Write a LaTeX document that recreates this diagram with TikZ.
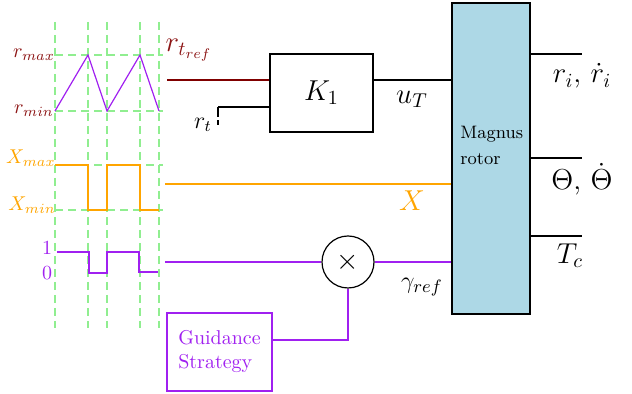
\documentclass[tikz,border=0pt]{standalone}
\usepackage{amsmath,amssymb}
\usepackage{xcolor}
\usepackage{tikz}
\usetikzlibrary{arrows.meta,positioning,calc}
\definecolor{rdark}{RGB}{140,20,20}
\definecolor{rline}{RGB}{128,0,0}
\definecolor{xorange}{RGB}{255,165,0}
\definecolor{gpurple}{RGB}{160,32,240}
\definecolor{lgreen}{RGB}{144,238,144}
\definecolor{lblue}{RGB}{173,216,230}

\begin{document}
\begin{tikzpicture}[
  x=0.5pt, y=-0.5pt,
  grid/.style={dash pattern=on 4pt off 2.5pt, line width=1pt, draw=lgreen},
  blk/.style={rectangle, draw, line width=0.8pt, inner sep=0pt},
  sig/.style={line width=0.8pt},
  lbl/.style={inner sep=1pt, font=\Large},
  wlbl/.style={inner sep=1pt}
]
  \useasboundingbox (0,0) rectangle (632,394);

  \foreach \gx in {55,88,107,140,159}
    \draw[grid] (\gx,22) -- (\gx,328);
  \foreach \gy in {55,111,165,210}
    \draw[grid] (55,\gy) -- (163,\gy);

  \draw[gpurple, line width=0.6pt] (55,111) -- (88,55) -- (107,111) -- (140,55) -- (159,111);
  \draw[xorange, line width=0.7pt] (55,165) -- (88,165) -- (88,210) -- (107,210) -- (107,165)
    -- (140,165) -- (140,210) -- (159,210);
  \draw[gpurple, line width=0.7pt] (57,252) -- (89,252) -- (89,273) -- (107,273) -- (107,252)
    -- (139,252) -- (139,272) -- (158,272);

  \node[wlbl, text=rdark] (rmax) at (34,55) {$r_{max}$};
  \node[wlbl, text=rdark] (rmin) at (34,111) {$r_{min}$};
  \node[wlbl, text=xorange] (xmax) at (31,158) {$X_{max}$};
  \node[wlbl, text=xorange] (xmin) at (32,205) {$X_{min}$};
  \node[wlbl, text=gpurple] (one) at (47,248) {$1$};
  \node[wlbl, text=gpurple] (zero) at (47,273) {$0$};

  \node[blk, minimum width=51.5pt, minimum height=39pt, font=\Large] (k1) at (321.5,93) {$K_1$};
  \node[blk, line width=1pt, fill=lblue, minimum width=39pt, minimum height=155.5pt] (mr) at (491,158.5) {};
  \node[inner sep=0pt, anchor=west, align=left, font=\small] (mtext) at (460,145) {Magnus\\[2pt]rotor};
  \node[circle, draw, line width=0.6pt, minimum size=26pt, inner sep=0pt, font=\Large] (mult) at (348,262) {$\times$};
  \node[blk, draw=gpurple, line width=1pt, minimum width=52.5pt, minimum height=39pt,
        text=gpurple, align=left] (gs) at (219.5,352) {Guidance\\Strategy};

  \coordinate (rin) at (167,79);
  \coordinate (rt) at (218,125);
  \coordinate (rtc) at (218,107);
  \coordinate (xin) at (165,184);
  \coordinate (gin) at (165,262);
  \coordinate (o1) at (582,54);
  \coordinate (o2) at (582,158);
  \coordinate (o3) at (582,236);

  \draw[sig, rline, line width=1pt] ([yshift=6.5pt]k1.west -| rin) -- ([yshift=6.5pt]k1.west);
  \draw[sig, dash pattern=on 2.5pt off 1.5pt on 5pt off 1pt] (rt) -- (rtc);
  \draw[sig] (rtc) -- (rtc -| k1.west);
  \draw[sig] ([yshift=6.5pt]k1.east) -- ([yshift=6.5pt]k1.east -| mr.west);
  \draw[sig, xorange] (xin) -- (xin -| mr.west);
  \draw[sig, gpurple] (gin) -- (mult.west);
  \draw[sig, gpurple] (mult.east) -- (mult -| mr.west);
  \draw[sig, gpurple] ([yshift=6pt]gs.east) -| (mult.south);
  \draw[sig] (o1 -| mr.east) -- (o1);
  \draw[sig] (o2 -| mr.east) -- (o2);
  \draw[sig] (o3 -| mr.east) -- (o3);

  \node[lbl, text=rdark] (rref) at (189,50) {$r_{t_{ref}}$};
  \node[lbl, font=\large] (rtl) at (203,125) {$r_t$};
  \node[lbl] (ut) at (412,99) {$u_T$};
  \node[lbl, text=xorange] (xl) at (412,201) {$X$};
  \node[lbl, font=\fontsize{13}{15}\selectfont] (gam) at (422,287) {$\gamma_{ref}$};
  \node[lbl] (ril) at (582,76) {$r_i$, $\dot{r}_i$};
  \node[lbl] (thl) at (582,179) {$\Theta$, $\dot{\Theta}$};
  \node[lbl] (tcl) at (570,256) {$T_c$};
\end{tikzpicture}
\end{document}
